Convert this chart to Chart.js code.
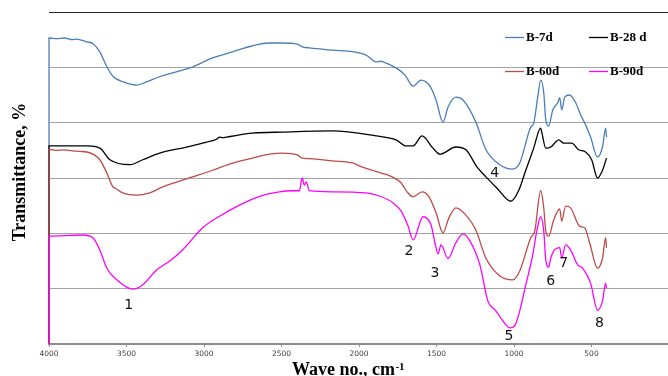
<!DOCTYPE html>
<html>
<head>
<meta charset="utf-8">
<script src="https://cdn.jsdelivr.net/npm/chart.js@4.4.1/dist/chart.umd.min.js"></script>
<style>
html,body{margin:0;padding:0;background:#fff;}
#wrap{width:668px;height:376px;overflow:hidden;position:relative;background:#fff;}
</style>
</head>
<body>
<div id="wrap"><canvas id="c" width="672" height="376"></canvas></div>
<script>
// ---- data (wavenumber, cm-1 ; transmittance, arbitrary offset units) ----
const seriesNames = ['B-7d', 'B-28 d', 'B-60d', 'B-90d'];

const wnB7 = [4000,4000,3950,3900,3850,3820,3790,3755,3717,3672,3627,3588,3524,3434,3369,3286,3202,3073,2945,2816,2687,2578,2494,2398,2366,2320,2172,2037,1954,1889,1857,1844,1761,1703,1651,1600,1542,1503,1458,1426,1375,1329,1246,1181,1091,1008,963,892,873,847,828,808,795,776,750,718,705,692,673,641,602,570,538,506,461,429,409,403];
const tB7  = [0,5.53,5.52,5.53,5.50,5.51,5.49,5.46,5.43,5.28,5.01,4.84,4.74,4.68,4.74,4.83,4.90,5.01,5.17,5.28,5.39,5.44,5.44,5.42,5.37,5.35,5.31,5.28,5.22,5.10,5.11,5.10,4.99,4.86,4.66,4.77,4.66,4.41,4.01,4.28,4.46,4.41,4.01,3.51,3.24,3.16,3.27,3.92,3.99,4.46,4.77,4.54,4.05,3.94,4.23,4.36,4.45,4.23,4.46,4.50,4.36,4.14,3.96,3.74,3.38,3.56,3.90,3.74];

const wnB28 = [4000,4000,3755,3672,3607,3479,3395,3286,3112,2983,2919,2900,2880,2855,2687,2494,2172,1889,1761,1696,1651,1593,1523,1477,1375,1310,1239,1181,1111,1021,969,924,873,828,821,795,763,731,712,679,628,583,538,499,461,429,403];
const tB28  = [0,3.58,3.58,3.54,3.33,3.24,3.33,3.45,3.56,3.65,3.70,3.74,3.73,3.74,3.81,3.83,3.85,3.76,3.69,3.58,3.58,3.76,3.54,3.43,3.56,3.51,3.20,3.02,2.82,2.58,2.78,3.14,3.54,3.90,3.83,3.54,3.56,3.65,3.69,3.63,3.63,3.51,3.47,3.33,3.00,3.14,3.36];

const wnB60 = [4000,4000,3950,3900,3850,3800,3755,3672,3627,3588,3575,3524,3434,3350,3266,3073,2945,2816,2687,2578,2494,2398,2366,2320,2172,2037,1999,1915,1857,1786,1728,1690,1651,1593,1548,1503,1458,1420,1375,1310,1246,1181,1091,1008,963,892,866,828,808,795,776,744,705,692,667,635,577,544,512,461,429,409,403];
const tB60  = [0,3.52,3.50,3.51,3.49,3.48,3.47,3.33,3.09,2.84,2.82,2.73,2.69,2.73,2.84,3.02,3.14,3.27,3.36,3.43,3.45,3.42,3.36,3.35,3.31,3.27,3.22,3.14,3.09,3.02,2.91,2.75,2.66,2.75,2.66,2.37,2.01,2.28,2.46,2.33,2.06,1.55,1.23,1.16,1.32,1.92,2.04,2.77,2.46,2.04,1.95,2.24,2.44,2.22,2.49,2.46,2.13,2.10,1.83,1.37,1.55,1.92,1.74];

const wnB90 = [4000,4000,3900,3781,3717,3672,3627,3562,3459,3395,3305,3221,3138,3009,2900,2771,2642,2514,2430,2385,2366,2353,2340,2320,2166,1954,1864,1780,1728,1683,1651,1587,1535,1510,1490,1471,1426,1375,1329,1284,1220,1169,1117,1072,1027,995,963,924,879,853,828,808,795,776,763,744,705,692,667,635,589,557,506,461,429,409,403];
const tB90  = [0,1.95,1.96,1.97,1.92,1.70,1.37,1.16,0.99,1.07,1.34,1.50,1.70,2.10,2.31,2.51,2.67,2.75,2.77,2.77,3.00,2.87,2.93,2.77,2.75,2.73,2.67,2.55,2.40,2.13,1.88,2.30,2.15,1.83,1.63,1.79,1.55,1.83,1.99,1.86,1.43,0.78,0.60,0.42,0.29,0.33,0.60,1.07,1.61,2.04,2.30,2.04,1.52,1.39,1.55,1.68,1.74,1.55,1.79,1.70,1.43,1.37,1.10,0.61,0.78,1.10,1.01];

const xTicksMin = 0, xTicksMax = 4000, xTickStep = 500;

// band labels (number, wavenumber, transmittance level)
const bandLabels = ['1','2','3','4','5','6','7','8'];
const bandWn     = [3485,1677,1510,1124,1033,763,679,448];
const bandT      = [0.70,1.68,1.28,3.09,0.14,1.14,1.45,0.38];

const colors = ['#4a7ebb', '#000000', '#be4b48', '#ff00ff'];

function pts(xs, ys){ return xs.map((x,i)=>({x:x, y:ys[i]})); }

const textPlugin = {
  id:'texts',
  afterDraw(chart){
    const ctx = chart.ctx;
    const xs = chart.scales.x, ys = chart.scales.y;
    ctx.save();
    // band numbers
    ctx.fillStyle = '#111';
    ctx.font = '14px "DejaVu Sans"';
    ctx.textAlign = 'center';
    ctx.textBaseline = 'middle';
    bandLabels.forEach((t,i)=>{
      ctx.fillText(t, xs.getPixelForValue(bandWn[i]), ys.getPixelForValue(bandT[i]));
    });
    // legend
    const leg = [[505,37],[589,37],[505,71],[589,71]];
    ctx.font = 'bold 13px "Liberation Serif"';
    ctx.textAlign = 'left';
    ctx.textBaseline = 'middle';
    seriesNames.forEach((n,i)=>{
      const [lx,ly] = leg[i];
      ctx.strokeStyle = colors[i];
      ctx.lineWidth = 1.3;
      ctx.beginPath(); ctx.moveTo(lx, ly+0.5); ctx.lineTo(lx+19, ly+0.5); ctx.stroke();
      ctx.fillStyle = '#000';
      ctx.fillText(n, lx+21, ly+1);
    });
    // y title
    ctx.save();
    ctx.translate(25, 172);
    ctx.rotate(-Math.PI/2);
    ctx.font = 'bold 18px "Liberation Serif"';
    ctx.textAlign = 'center';
    ctx.textBaseline = 'alphabetic';
    ctx.fillStyle = '#000';
    ctx.fillText('Transmittance, %', 0, 0);
    ctx.restore();
    // x title with superscript
    ctx.font = 'bold 18px "Liberation Serif"';
    ctx.textBaseline = 'alphabetic';
    ctx.textAlign = 'left';
    const main = 'Wave no., cm';
    const wMain = ctx.measureText(main).width;
    ctx.font = 'bold 11px "Liberation Serif"';
    const sup = '-1';
    const wSup = ctx.measureText(sup).width;
    const startX = 348 - (wMain + wSup)/2;
    ctx.font = 'bold 18px "Liberation Serif"';
    ctx.fillText(main, startX, 375);
    ctx.font = 'bold 11px "Liberation Serif"';
    ctx.fillText(sup, startX + wMain + 0.5, 370);
    ctx.restore();
  }
};

new Chart(document.getElementById('c'), {
  type:'line',
  data:{
    datasets:[
      {label:seriesNames[0], data:pts(wnB7,tB7),  borderColor:colors[0], order:4, clip:3},
      {label:seriesNames[1], data:pts(wnB28,tB28), borderColor:colors[1], order:3, clip:3},
      {label:seriesNames[2], data:pts(wnB60,tB60), borderColor:colors[2], order:2, clip:3},
      {label:seriesNames[3], data:pts(wnB90,tB90), borderColor:colors[3], order:1, clip:3}
    ]
  },
  options:{
    responsive:false,
    animation:false,
    devicePixelRatio:1,
    layout:{padding:{top:12,right:1,left:0,bottom:0}},
    plugins:{legend:{display:false}, tooltip:{enabled:false}},
    elements:{
      point:{radius:0},
      line:{borderWidth:1.3, cubicInterpolationMode:'monotone', fill:false}
    },
    scales:{
      x:{
        type:'linear', reverse:true, min:xTicksMin, max:xTicksMax,
        ticks:{stepSize:xTickStep, autoSkip:false, maxRotation:0, padding:3,
          font:{family:'DejaVu Sans', size:7.5}, color:'#404040',
          callback:(v)=> v===0 ? '' : String(v)},
        grid:{drawOnChartArea:false, drawTicks:true, tickLength:3, color:'#8c8c8c'},
        border:{color:'#8c8c8c', width:2},
        afterFit:(s)=>{ s.height = 32; }
      },
      y:{
        min:0, max:6,
        ticks:{stepSize:1, display:false},
        grid:{color:(c)=> c.tick && c.tick.value===6 ? '#262626' : '#a3a3a3', lineWidth:1, drawTicks:false},
        border:{display:false},
        afterFit:(s)=>{ s.width = 49; }
      }
    }
  },
  plugins:[textPlugin]
});
</script>
</body>
</html>
